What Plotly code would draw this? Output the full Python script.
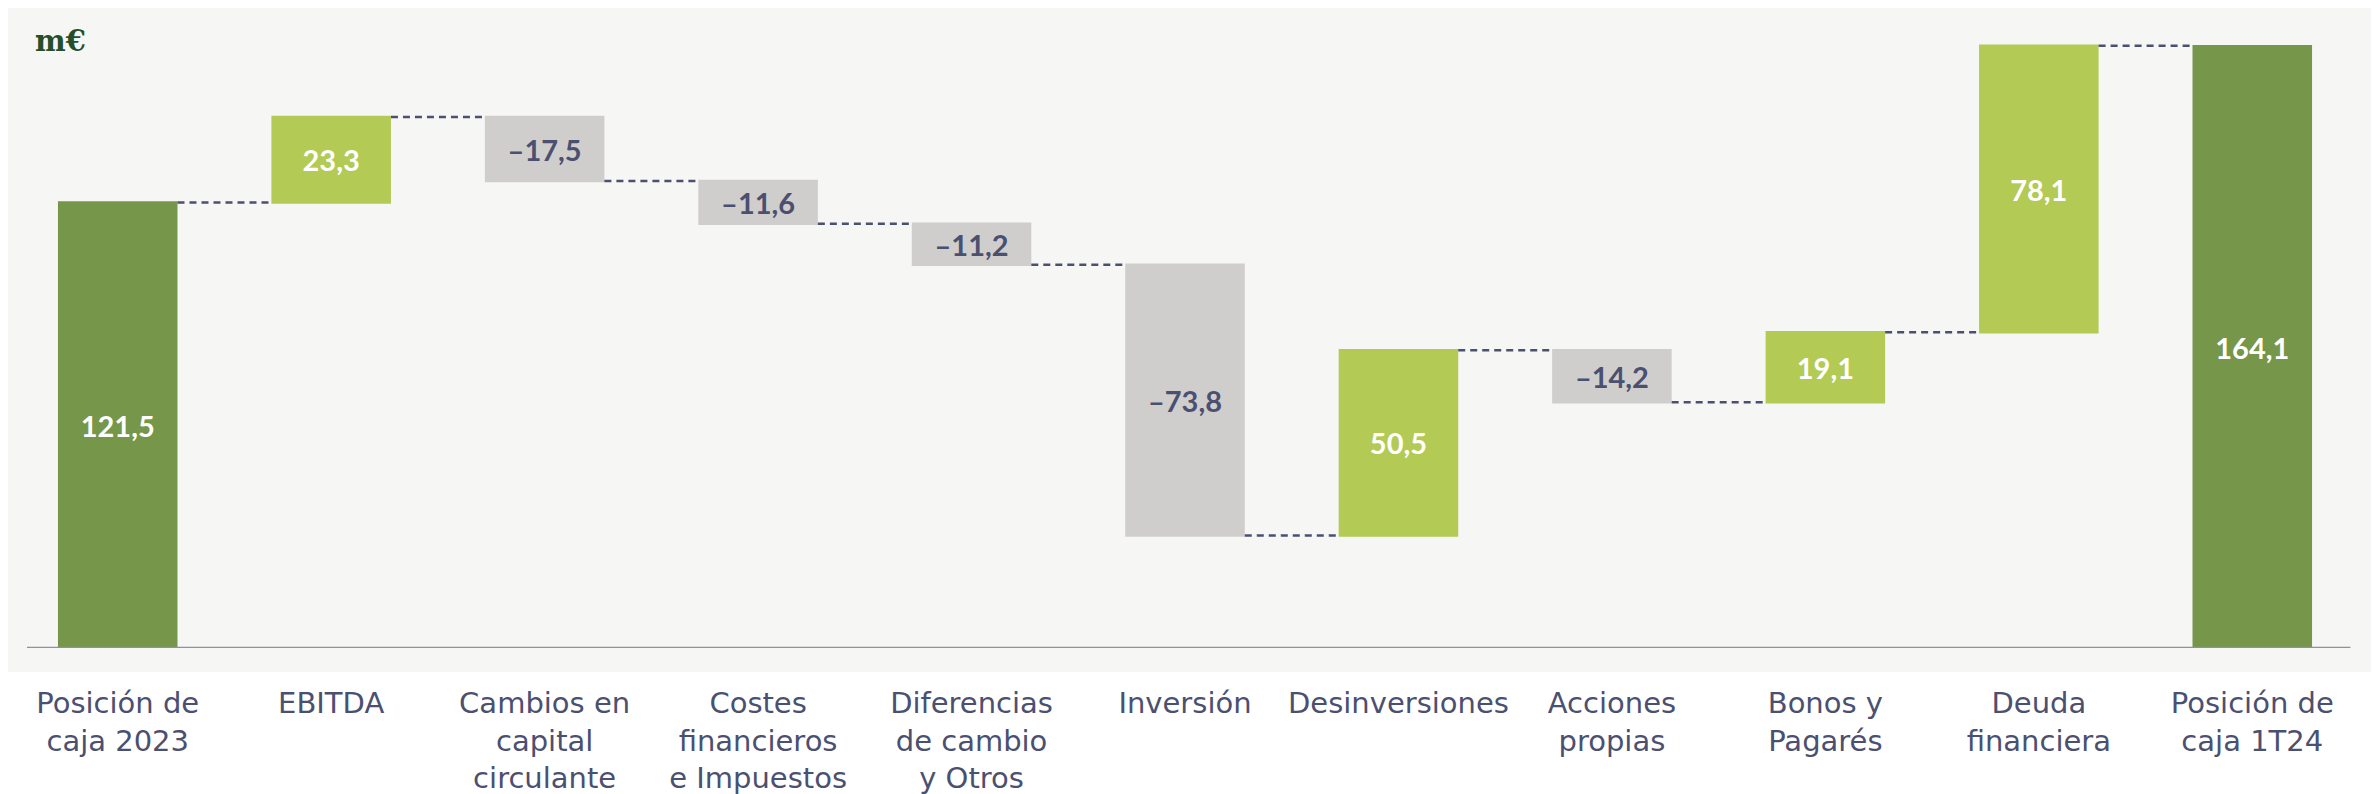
import plotly.graph_objects as go

# data (m€)
categories = [
    "Posición de<br>caja 2023", "EBITDA", "Cambios en<br>capital<br>circulante",
    "Costes<br>financieros<br>e Impuestos", "Diferencias<br>de cambio<br>y Otros",
    "Inversión", "Desinversiones", "Acciones<br>propias", "Bonos y<br>Pagarés",
    "Deuda<br>financiera", "Posición de<br>caja 1T24",
]
values = [121.5, 23.3, -17.5, -11.6, -11.2, -73.8, 50.5, -14.2, 19.1, 78.1, 164.1]
measures = ["absolute"] + ["relative"] * 9 + ["absolute"]

W, H = 2379, 794
ML, MR, MT, MB = 3, 28, 0, 154
PW, PH = W - ML - MR, H - MT - MB

DARK_GREEN = "#769649"
LIGHT_GREEN = "#b3ca55"
GREY = "#cfcecc"
INK = "#4b5070"


def fmt(v):
    s = f"{abs(v):.1f}".replace(".", ",")
    return ("–" + s) if v < 0 else s


labels = [fmt(v) for v in values]
text_colors = ["white" if v > 0 else INK for v in values]

fig = go.Figure(go.Waterfall(
    x=categories,
    y=values,
    measure=measures,
    text=labels,
    textposition="inside",
    insidetextanchor="middle",
    constraintext="none",
    insidetextfont=dict(family="Lato", size=29, color=text_colors, weight="bold"),
    totals=dict(marker=dict(color=DARK_GREEN)),
    increasing=dict(marker=dict(color=LIGHT_GREEN)),
    decreasing=dict(marker=dict(color=GREY)),
    connector=dict(mode="between", line=dict(color=INK, width=2.5, dash="7px,5px")),
    width=0.56,
    hoverinfo="skip",
))

# light grey panel behind the plot
fig.add_shape(type="rect", xref="paper", yref="paper",
              x0=-ML / PW, x1=(2364 - ML) / PW,
              y0=-(664 - (H - MB)) / PH, y1=1.0,
              fillcolor="#f6f6f4", line_width=0, layer="below")
# baseline
fig.add_shape(type="line", xref="x", yref="y", x0=-0.425, x1=10.46, y0=0, y1=0,
              line=dict(color="#8f91a3", width=2.5), layer="above")

fig.add_annotation(text="<b>m€</b>", xref="paper", yref="paper",
                   x=(25 - ML) / PW, y=1 - (33 - MT) / PH,
                   xanchor="left", yanchor="middle", showarrow=False,
                   font=dict(family="DejaVu Serif", size=29, color="#234f2b"))

fig.update_layout(
    width=W, height=H,
    margin=dict(l=ML, r=MR, t=MT, b=MB),
    paper_bgcolor="white",
    plot_bgcolor="rgba(0,0,0,0)",
    showlegend=False,
    font=dict(family="DejaVu Sans", color=INK),
    xaxis=dict(range=[-0.5, 10.5], showgrid=False, showline=False, zeroline=False,
               ticks="", ticklabelstandoff=35,
               tickfont=dict(family="DejaVu Sans", size=29, color=INK)),
    yaxis=dict(range=[0, 174.5], visible=False),
)

fig.write_html("out.html")
